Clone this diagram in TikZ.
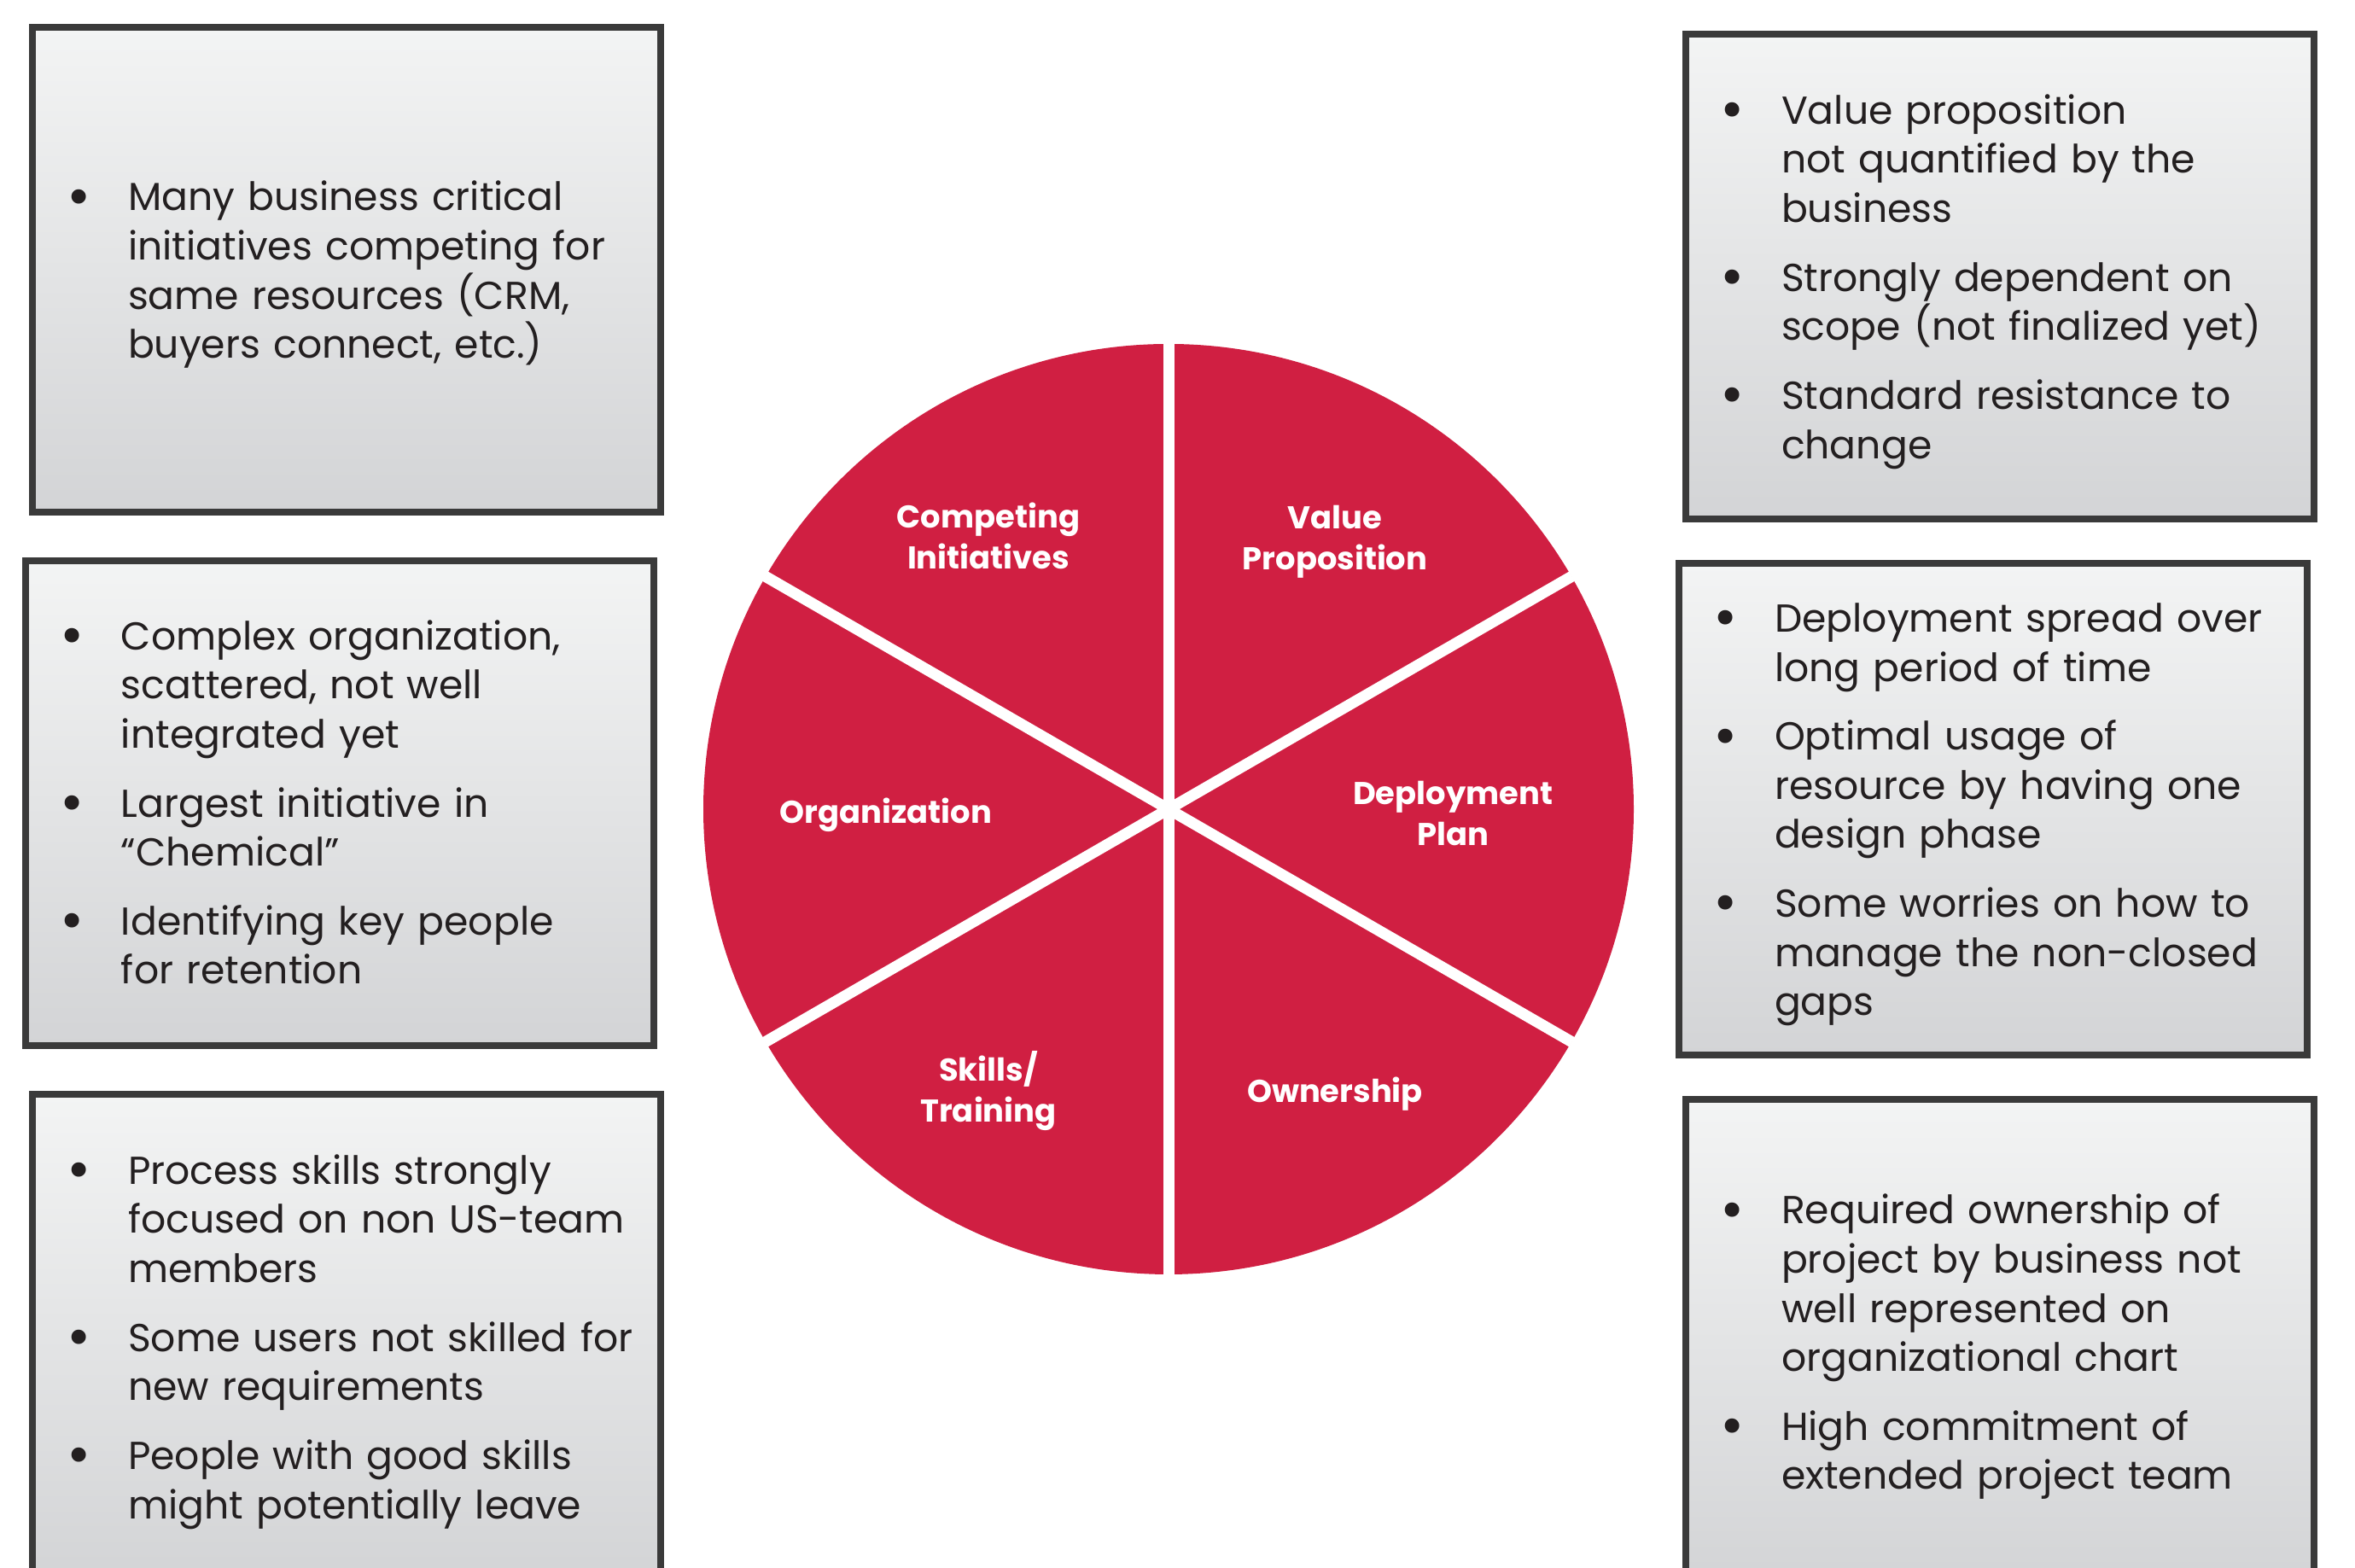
\documentclass[tikz,border=0pt]{standalone}
\usepackage{fontspec}
\setmainfont{Poppins}
\usetikzlibrary{positioning}
\usepackage{xcolor}
\usepackage{graphicx}

\definecolor{piered}{RGB}{208,31,66}
\definecolor{boxline}{RGB}{58,58,58}
\definecolor{boxtop}{RGB}{243,244,244}
\definecolor{boxbot}{RGB}{211,212,214}
\definecolor{boxtext}{RGB}{35,31,32}

% one bullet point inside a box
\newcommand{\bul}[1]{\par\hangindent=1.12cm\hangafter=0\noindent\llap{\makebox[1.14cm][c]{\raisebox{-0.14em}{\scalebox{1.5}{\textbullet}}}}{\let\\\newline #1}\par}

\tikzset{
	notebox/.style={draw=boxline, line width=0.08cm, top color=boxtop, bottom color=boxbot,
		minimum width=7.36cm, minimum height=5.68cm, text width=7.36cm,
		inner xsep=0pt, inner ysep=0pt, align=left, text=boxtext,
		font=\fontsize{13}{16.4}\selectfont,
		execute at begin node=\setlength{\parskip}{0.23cm},
		execute at end node={\par\vspace*{#1}}},
	notebox/.default=0.34cm,
	slicelabel/.style={text=white, align=center, font=\fontsize{10.5}{13.5}\selectfont\bfseries},
	divider/.style={draw=white, line width=0.13cm}
}

\begin{document}
\begin{tikzpicture}
	\clip (0,0) rectangle (27.59,18.37);
	
	% the wheel
	\node[circle, fill=piered, minimum size=10.9cm, inner sep=0pt] (pie) at (13.69,8.89) {};
	\draw[divider] (pie.center) -- (pie.90);
	\draw[divider] (pie.center) -- (pie.30);
	\draw[divider] (pie.center) -- (pie.-30);
	\draw[divider] (pie.center) -- (pie.-90);
	\draw[divider] (pie.center) -- (pie.-150);
	\draw[divider] (pie.center) -- (pie.150);
	
	\node[slicelabel] (competing) at (11.58,12.09) {Competing\\Initiatives};
	\node[slicelabel] (value) at (15.64,12.02) {Value\\Proposition};
	\node[slicelabel] (organization) at (10.38,8.82) {Organization};
	\node[slicelabel] (deployment) at (17.02,8.84) {Deployment\\Plan};
	\node[slicelabel] (skills) at (11.58,5.59) {Skills/\\Training};
	\node[slicelabel] (ownership) at (15.64,5.55) {Ownership};
	
	% left column
	\node[notebox] (boxcompeting) at (4.06,15.21) {%
		\bul{Many business critical\\initiatives competing for\\same resources (CRM,\\buyers connect, etc.)}};
	\node[notebox=0.48cm] (boxorganization) at (3.98,8.96) {%
		\bul{Complex organization,\\scattered, not well\\integrated yet}
		\bul{Largest initiative in\\“Chemical”}
		\bul{Identifying key people\\for retention}};
	\node[notebox] (boxskills) at (4.06,2.71) {%
		\bul{Process skills strongly\\focused on non US-team\\members}
		\bul{Some users not skilled for\\new requirements}
		\bul{People with good skills\\might potentially leave}};
	
	% right column
	\node[notebox] (boxvalue) at (23.43,15.13) {%
		\bul{Value proposition\\not quantified by the\\business}
		\bul{Strongly dependent on\\scope (not finalized yet)}
		\bul{Standard resistance to\\change}};
	\node[notebox] (boxdeployment) at (23.35,8.89) {%
		\bul{Deployment spread over\\long period of time}
		\bul{Optimal usage of\\resource by having one\\design phase}
		\bul{Some worries on how to\\manage the non-closed\\gaps}};
	\node[notebox] (boxownership) at (23.43,2.65) {%
		\bul{Required ownership of\\project by business not\\well represented on\\organizational chart}
		\bul{High commitment of\\extended project team}};
	
\end{tikzpicture}
\end{document}
